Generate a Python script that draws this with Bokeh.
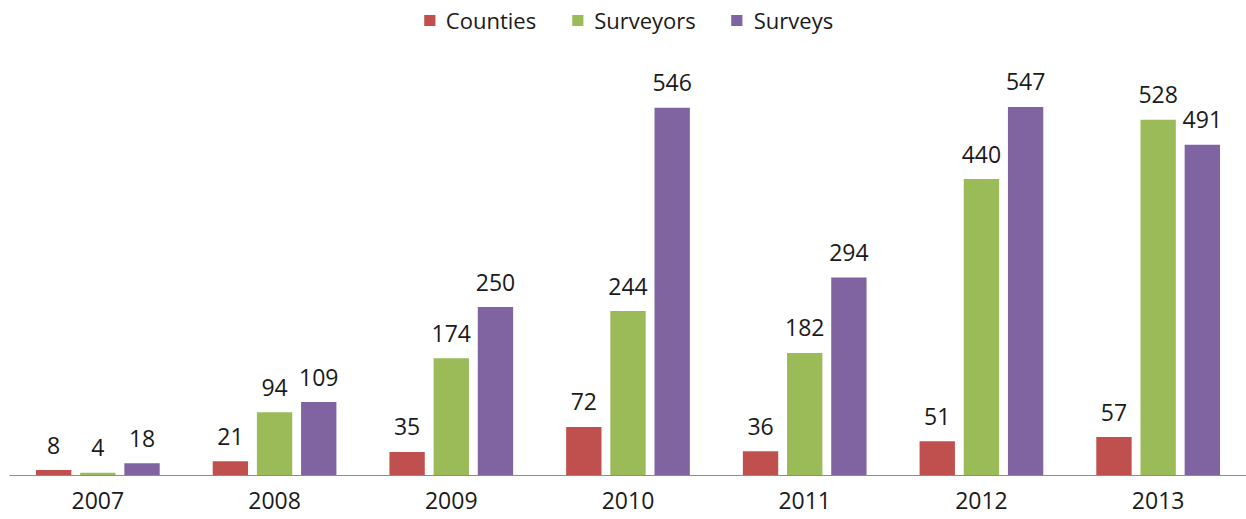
import numpy as np
from bokeh.plotting import figure
from bokeh.models import Range1d, FixedTicker, Legend, LegendItem, ColumnDataSource
from bokeh.core.properties import value
from bokeh.embed import file_html
from bokeh.resources import INLINE

years = ["2007", "2008", "2009", "2010", "2011", "2012", "2013"]
counties = [8, 21, 35, 72, 36, 51, 57]
surveyors = [4, 94, 174, 244, 182, 440, 528]
surveys = [18, 109, 250, 546, 294, 547, 491]

series = [("Counties", counties, "#C0504D", -0.25),
          ("Surveyors", surveyors, "#9BBB59", 0.0),
          ("Surveys", surveys, "#8064A2", 0.25)]

FONT = "Open Sans"
TXT = "#1a1a1a"

xpos = np.arange(len(years))

p = figure(width=1246, height=519, output_backend="svg", toolbar_location=None,
           x_range=Range1d(-0.5, 6.5), y_range=Range1d(0, 705),
           min_border_left=9, min_border_right=0, min_border_top=0, min_border_bottom=44)
p.outline_line_color = None
p.xgrid.visible = False
p.ygrid.visible = False
p.yaxis.visible = False

items = []
for name, vals, color, off in series:
    src = ColumnDataSource(dict(x=xpos + off, top=vals, label=[str(v) for v in vals]))
    r = p.vbar(x="x", top="top", width=0.2, bottom=0, source=src,
               fill_color=color, line_color=None)
    p.text(x="x", y="top", text="label", source=src, text_align="center",
           text_baseline="alphabetic", y_offset=-25, text_font=value(FONT),
           text_font_size="23px", text_color=TXT)
    items.append(LegendItem(label=name, renderers=[r]))

legend = Legend(items=items, orientation="horizontal", location="top_center",
                glyph_width=14, glyph_height=14, label_text_font=FONT,
                label_text_font_size="22px", label_text_color=TXT,
                spacing=34, label_standoff=10, padding=0, margin=5,
                background_fill_alpha=0, border_line_color=None)
p.add_layout(legend)

ax = p.xaxis[0]
ax.ticker = FixedTicker(ticks=list(xpos))
ax.major_label_overrides = {int(i): y for i, y in zip(xpos, years)}
ax.axis_line_color = "#8c8c8c"
ax.axis_line_width = 1
ax.major_tick_line_color = None
ax.minor_tick_line_color = None
ax.major_label_text_font = FONT
ax.major_label_text_font_size = "23px"
ax.major_label_text_color = TXT
ax.major_label_standoff = 10

open("out.html", "w").write(file_html(p, INLINE))
